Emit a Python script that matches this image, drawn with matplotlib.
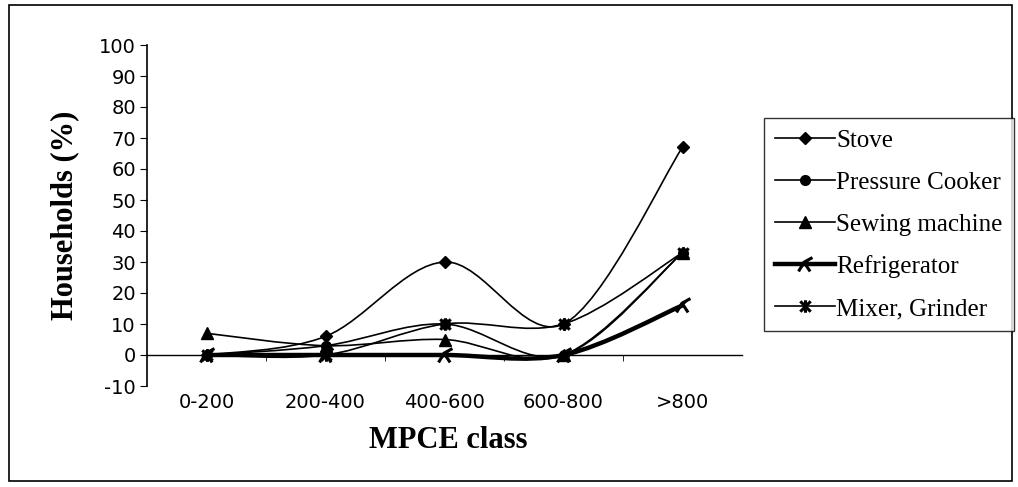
import numpy as np
import matplotlib.pyplot as plt
from matplotlib.path import Path
from matplotlib.patches import PathPatch, Rectangle
from matplotlib.lines import Line2D

classes = ['0-200', '200-400', '400-600', '600-800', '>800']
stove = [0, 6, 30, 10, 67]
pressure_cooker = [0, 3, 10, 0, 33]
sewing_machine = [7, 3, 5, 0, 33]
refrigerator = [0, 0, 0, 0, 16]
mixer_grinder = [0, 0, 10, 10, 33]
yticks = list(range(-10, 101, 10))

plt.rcParams['axes.unicode_minus'] = False
plt.rcParams['font.family'] = 'DejaVu Sans'

# custom markers
fridge_marker = Path([(-0.9, -0.9), (-0.2, 0.3), (0.9, 0.9), (-0.2, 0.3), (0.6, -0.9)],
                     [Path.MOVETO, Path.LINETO, Path.LINETO, Path.MOVETO, Path.LINETO])
star_marker = Path([(-1, -1), (1, 1), (-1, 1), (1, -1), (0, -1.2), (0, 1.2)],
                   [Path.MOVETO, Path.LINETO, Path.MOVETO, Path.LINETO, Path.MOVETO, Path.LINETO])


def smooth_path(xs, ys):
    # Excel-style smoothed line: cubic bezier, control points from neighbours
    pts = np.column_stack([xs, ys]).astype(float)
    n = len(pts)
    verts = [pts[0]]
    codes = [Path.MOVETO]
    for i in range(n - 1):
        p0 = pts[i - 1] if i > 0 else pts[i]
        p1 = pts[i]
        p2 = pts[i + 1]
        p3 = pts[i + 2] if i + 2 < n else pts[i + 1]
        c1 = p1 + (p2 - p0) / 6.0
        c2 = p2 - (p3 - p1) / 6.0
        verts += [c1, c2, p2]
        codes += [Path.CURVE4] * 3
    return Path(verts, codes)


fig = plt.figure(figsize=(10.18, 4.87), dpi=100)
fig.patches.append(Rectangle((9 / 1018, 1 - 481 / 487), 1003 / 1018, 476 / 487,
                             transform=fig.transFigure, fill=False, ec='black', lw=1.2))
ax = fig.add_axes([147 / 1018, 1 - 386 / 487, 595 / 1018, 341 / 487])

x = np.arange(len(classes))
series = [
    ('Stove', stove, 'D', 6, 1.2),
    ('Pressure Cooker', pressure_cooker, 'o', 7, 1.2),
    ('Sewing machine', sewing_machine, '^', 8, 1.2),
    ('Refrigerator', refrigerator, fridge_marker, 10, 3.2),
    ('Mixer, Grinder', mixer_grinder, star_marker, 9, 1.2),
]
handles = []
for name, vals, mk, ms, lw in series:
    mew = 2.2 if not isinstance(mk, str) else 1
    ax.add_patch(PathPatch(smooth_path(x, vals), fill=False, ec='black', lw=lw,
                           capstyle='butt', zorder=3))
    ax.plot(x, vals, ls='none', marker=mk, ms=ms, color='black', mew=mew,
            zorder=4, clip_on=False)
    handles.append(Line2D([], [], color='black', lw=lw, marker=mk, ms=ms, mew=mew))

ax.set_xlim(-0.5, 4.5)
ax.set_ylim(-10, 100)
ax.set_yticks(yticks)
ax.set_yticklabels([str(v) for v in yticks])
ax.set_xticks(x)
ax.set_xticklabels(classes)
ax.set_xticks([0.5, 1.5, 2.5, 3.5], minor=True)
ax.tick_params(axis='both', which='major', labelsize=14)
ax.tick_params(axis='x', which='major', length=0, pad=27)
ax.tick_params(axis='x', which='minor', length=4, direction='out')
ax.tick_params(axis='y', length=5, direction='out', pad=3)
ax.spines['top'].set_visible(False)
ax.spines['right'].set_visible(False)
ax.spines['bottom'].set_position(('data', 0))
ax.spines['left'].set_linewidth(1.2)
ax.spines['bottom'].set_linewidth(1.0)

ax.set_ylabel('Households (%)', fontsize=22, fontweight='bold', family='Liberation Serif', labelpad=14)
fig.text(448 / 1018, 1 - 440 / 487, 'MPCE class', fontsize=22, fontweight='bold',
         family='Liberation Serif', ha='center', va='center')

leg = fig.legend(handles, [s[0] for s in series], loc='upper left',
                 bbox_to_anchor=(764 / 1018, 1 - 118 / 487),
                 prop={'family': 'Liberation Serif', 'size': 18},
                 frameon=True, fancybox=False, edgecolor='black',
                 handlelength=2.4, handletextpad=0.05, labelspacing=0.78,
                 borderpad=0.45, borderaxespad=0)
leg.get_frame().set_linewidth(1.0)

fig.savefig('out.png', dpi=100)
